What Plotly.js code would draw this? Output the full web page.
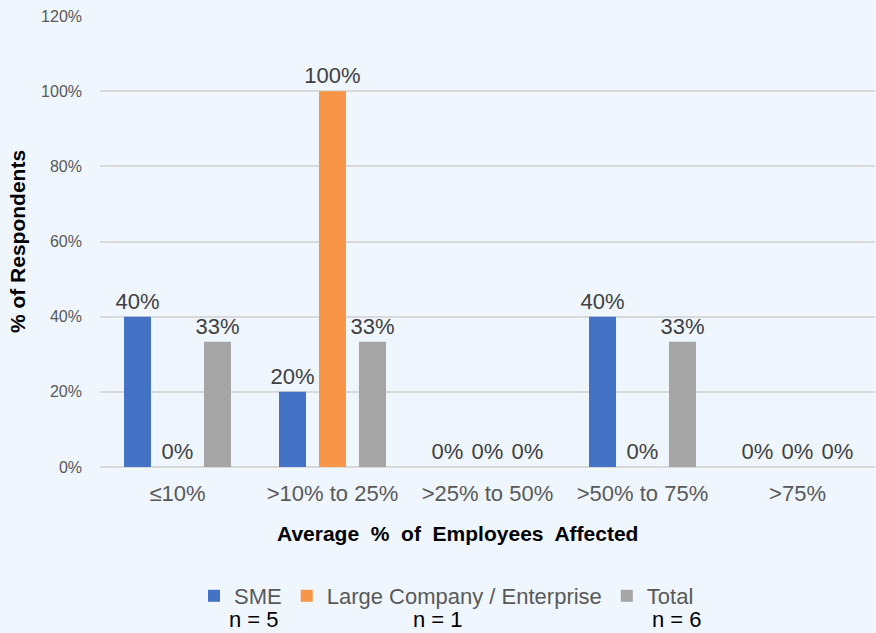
<!DOCTYPE html>
<html>
<head>
<meta charset="utf-8">
<script src="https://cdn.plot.ly/plotly-3.0.1.min.js"></script>
<style>html,body{margin:0;padding:0;background:#EFF6FE;}</style>
</head>
<body>
<div id="chart" style="width:876px;height:633px;"></div>
<script>
const categories = ["≤10%", ">10% to 25%", ">25% to 50%", ">50% to 75%", ">75%"];
const smeValues = [40, 20, 0, 40, 0];
const largeValues = [0, 100, 0, 0, 0];
const totalValues = [33.33, 33.33, 0, 33.33, 0];
const seriesNames = ["SME", "Large Company / Enterprise", "Total"];
const sampleSizes = ["n = 5", "n = 1", "n = 6"];
const yTicks = [0, 20, 40, 60, 80, 100, 120];

const colors = ["#4472C4", "#F79646", "#A5A5A5"];
const allValues = [smeValues, largeValues, totalValues];
const FONT = "Liberation Sans, Arial, sans-serif";

const traces = allValues.map((vals, i) => ({
  type: "bar",
  name: seriesNames[i],
  x: categories,
  y: vals,
  marker: {color: colors[i]},
  texttemplate: "%{y:.0f}%",
  textposition: "outside",
  constraintext: "none",
  cliponaxis: false,
  textfont: {family: FONT, size: 22, color: "#404040"},
  hoverinfo: "x+y+name"
}));

const nX = [254, 438, 677];
const layout = {
  width: 876,
  height: 633,
  paper_bgcolor: "#EFF6FE",
  plot_bgcolor: "#EFF6FE",
  margin: {l: 100, r: 1, t: 16, b: 166},
  barmode: "group",
  bargap: 0.226,
  bargroupgap: 0.325,
  font: {family: FONT, color: "#595959"},
  xaxis: {
    type: "category",
    tickfont: {family: FONT, size: 22, color: "#595959"},
    showgrid: false,
    zeroline: false,
    showline: false,
    ticks: "",
    ticklabelstandoff: 11,
    fixedrange: true
  },
  yaxis: {
    range: [0, 120],
    tickvals: yTicks,
    ticktext: yTicks.map(v => v + "%"),
    tickfont: {family: FONT, size: 16, color: "#595959"},
    gridcolor: "#D9D9D9",
    gridwidth: 2,
    zeroline: true,
    zerolinecolor: "#D9D9D9",
    zerolinewidth: 2,
    showline: false,
    ticks: "",
    ticklabelstandoff: 17,
    automargin: false,
    title: {text: "% of Respondents", font: {family: FONT, size: 21, color: "#000000", weight: "bold"}, standoff: 9},
    fixedrange: true
  },
  showlegend: true,
  legend: {
    orientation: "h",
    x: 94 / 775, xanchor: "left",
    y: -(596 - 467) / 451, yanchor: "middle",
    font: {family: FONT, size: 22, color: "#595959"},
    bgcolor: "rgba(0,0,0,0)",
    traceorder: "normal",
    itemclick: false,
    itemdoubleclick: false
  },
  annotations: [
    {text: "<b>Average&nbsp; %&nbsp; of&nbsp; Employees&nbsp; Affected</b>", xref: "paper", yref: "paper", x: (457 - 100) / 775, y: (467 - 533) / 451, xanchor: "center", yanchor: "middle", showarrow: false, font: {family: FONT, size: 21, color: "#000000"}}
  ].concat(sampleSizes.map((t, i) => ({
    text: t, xref: "paper", yref: "paper", x: (nX[i] - 100) / 775, y: (467 - 619) / 451,
    xanchor: "center", yanchor: "middle", showarrow: false,
    font: {family: FONT, size: 22, color: "#000000"}
  })))
};

Plotly.newPlot("chart", traces, layout, {displayModeBar: false});
</script>
</body>
</html>
